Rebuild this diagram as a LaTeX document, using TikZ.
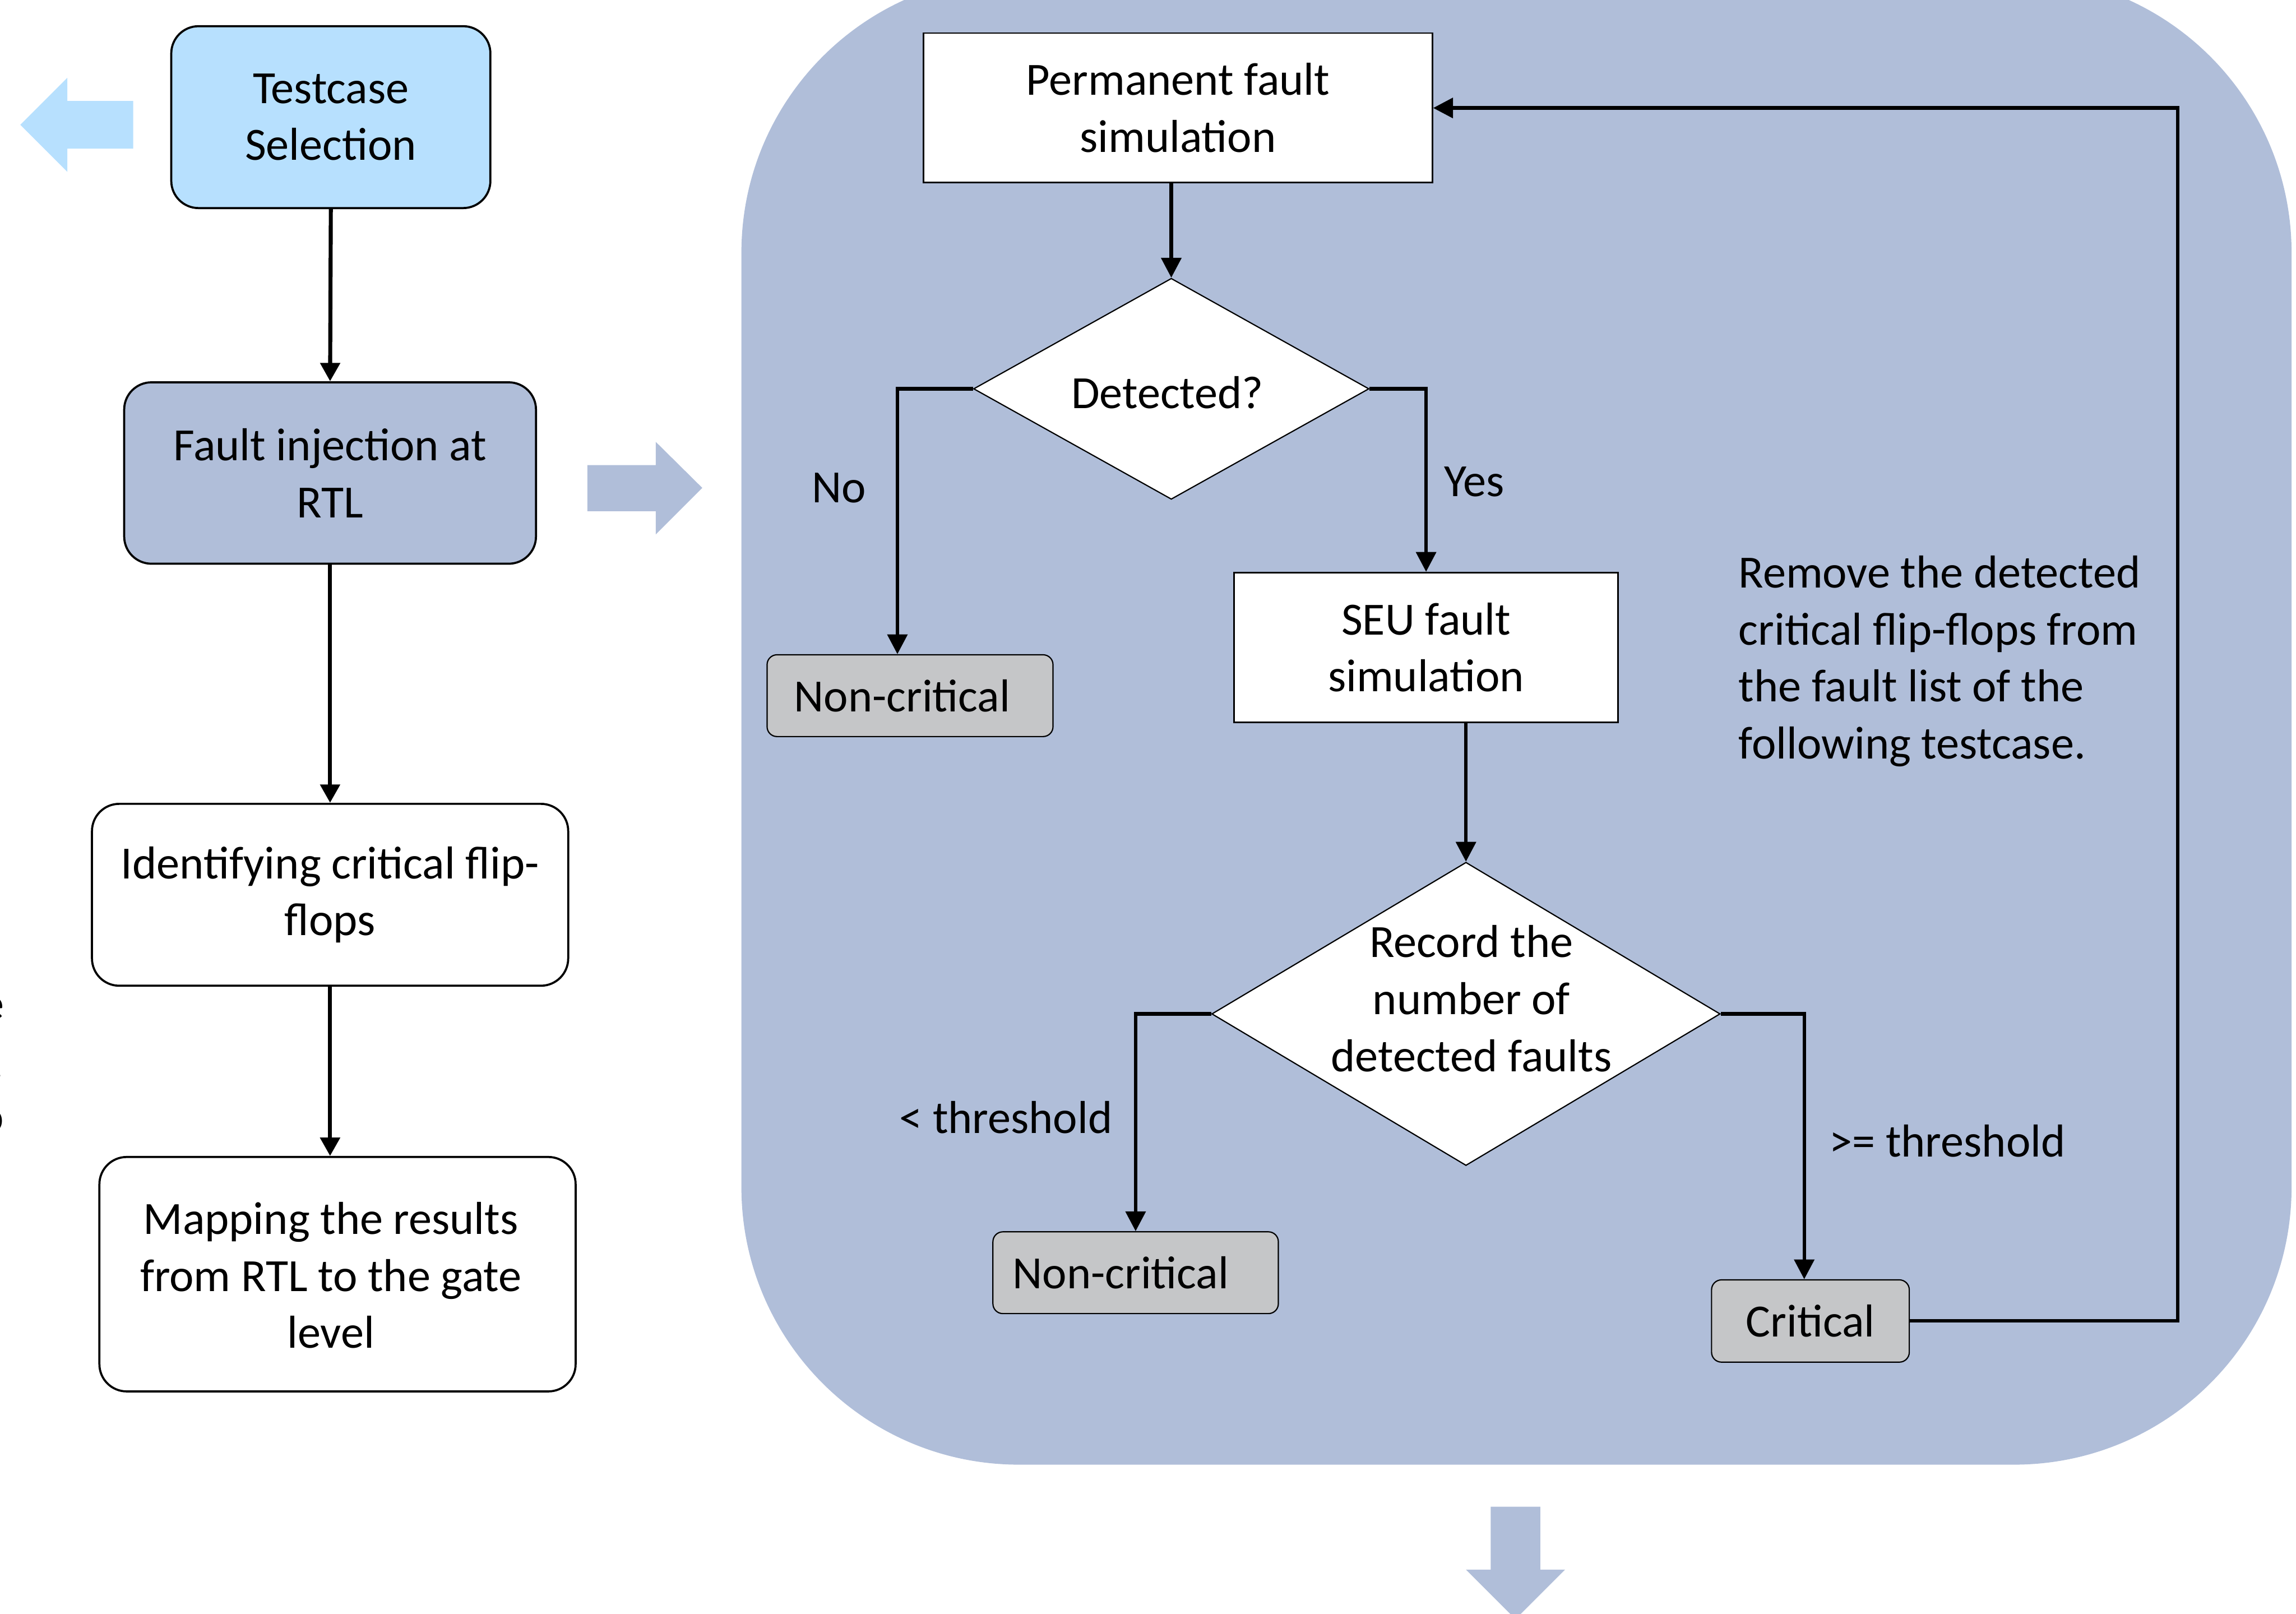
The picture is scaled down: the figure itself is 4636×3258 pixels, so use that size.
\documentclass[tikz,border=0pt]{standalone}
\usepackage{fontspec}
\setmainfont{Carlito}
\usetikzlibrary{arrows.meta,shapes.geometric}
\definecolor{panel}{HTML}{B0BED9}
\definecolor{sky}{HTML}{B7E0FE}
\definecolor{greybox}{HTML}{C5C6C8}
\begin{document}
\begin{tikzpicture}[x=0.01cm,y=-0.01cm,
  font=\fontsize{26.5pt}{32.7pt}\selectfont,
  lbox/.style={draw, line width=1.2pt, rounded corners=0.55cm, align=center, inner sep=0},
  sbox/.style={draw, line width=0.85pt, fill=white, align=center, inner sep=0},
  gbox/.style={draw, line width=0.7pt, fill=greybox, rounded corners=0.2cm, inner sep=0},
  dia/.style={draw, diamond, fill=white, line width=0.7pt, inner sep=0},
  arr/.style={line width=2pt, -{Triangle[width=0.4cm,length=0.4cm]}},
  larr/.style={line width=2.3pt, -{Triangle[width=0.39cm,length=0.37cm]}},
  lbl/.style={inner sep=0, align=center}]
\useasboundingbox (0,0) rectangle (4636,3258);
\begin{scope}
\clip (0,0) rectangle (4636,3258);
% background panel
\fill[panel, rounded corners=5.6cm] (1497,-50) rectangle (4627,2957);
% block arrows
\fill[sky] (41,252) -- (136,157) -- (136,204) -- (269,204) -- (269,300) -- (136,300) -- (136,347) -- cycle;
\fill[panel] (1186,939) -- (1324,939) -- (1324,892) -- (1418,985) -- (1324,1079) -- (1324,1032) -- (1186,1032) -- cycle;
\fill[panel] (3010,3042) -- (3110,3042) -- (3110,3169) -- (3160,3169) -- (3060,3269) -- (2960,3169) -- (3010,3169) -- cycle;
% cut-off text at the left edge
\node[inner sep=0, anchor=base east] (cut1) at (9,2058) {e};
\node[inner sep=0, anchor=base east] (cut2) at (8,2177) {.};
\node[inner sep=0, anchor=base east] (cut3) at (9,2286) {o};
\end{scope}

% left column
\node[lbox, fill=sky, minimum width=6.44cm, minimum height=3.67cm] (tc) at (668,236.5) {Testcase\\Selection};
\node[lbox, fill=panel, minimum width=8.31cm, minimum height=3.66cm] (fi) at (666.5,955) {Fault injection at\\RTL};
\node[lbox, fill=white, minimum width=9.61cm, minimum height=3.67cm] (id) at (666.5,1806.5) {Identifying critical flip-\\flops};
\node[lbox, fill=white, minimum width=9.61cm, minimum height=4.73cm] (mp) at (681.5,2572.5) {};
\node[lbl] (mpt) at (668,2575) {Mapping the results\\from RTL to the gate\\level};
\draw[larr] (tc.south) -- (fi.north);
\draw[larr] (fi.south) -- (id.north);
\draw[larr] (id.south) -- (id.south |- mp.north);

% right panel flow
\node[sbox, minimum width=10.27cm, minimum height=3.01cm] (pf) at (2378.5,217.5) {Permanent fault\\simulation};
\node[dia, minimum width=7.98cm, minimum height=4.46cm] (dt) at (2365,785) {};
\node[lbl] (dtt) at (2357,792) {Detected?};
\node[gbox, minimum width=5.77cm, minimum height=1.65cm] (nc1) at (1837.5,1404.5) {Non-critical\hspace*{0.32cm}};
\node[sbox, minimum width=7.75cm, minimum height=3.02cm] (seu) at (2879.5,1307) {SEU fault\\simulation};
\node[dia, minimum width=10.26cm, minimum height=6.12cm] (rec) at (2960,2047) {};
\node[lbl] (rect) at (2971,2016) {Record the\\number of\\detected faults};
\node[gbox, minimum width=5.76cm, minimum height=1.65cm] (nc2) at (2293,2569.5) {Non-critical\hspace*{0.6cm}};
\node[gbox, minimum width=3.99cm, minimum height=1.66cm] (cr) at (3655.5,2667) {Critical};

\node[lbl] (no) at (1694,985) {No};
\node[lbl] (yes) at (2977,973) {Yes};
\node[lbl] (lt) at (2031,2256) {< threshold};
\node[lbl] (ge) at (3932,2303) {>= threshold};
\node[lbl, align=left, anchor=west] (rm) at (3510,1335) {Remove the detected\\critical flip-flops from\\the fault list of the\\following testcase.};

\coordinate (nox) at (1812,0);
\coordinate (crx) at (3643,0);
\coordinate (fb) at (4397,218);

\draw[arr] (dt.north |- pf.south) -- (dt.north);
\draw[arr] (dt.west) -| (nox |- nc1.north);
\draw[arr] (dt.east) -| (seu.north);
\draw[arr] (rec.north |- seu.south) -- (rec.north);
\draw[arr] (rec.west) -| (nc2.north);
\draw[arr] (rec.east) -| (crx |- cr.north);
\draw[arr] (cr.east) -| (fb) -- (fb -| pf.east);
\end{tikzpicture}
\end{document}
